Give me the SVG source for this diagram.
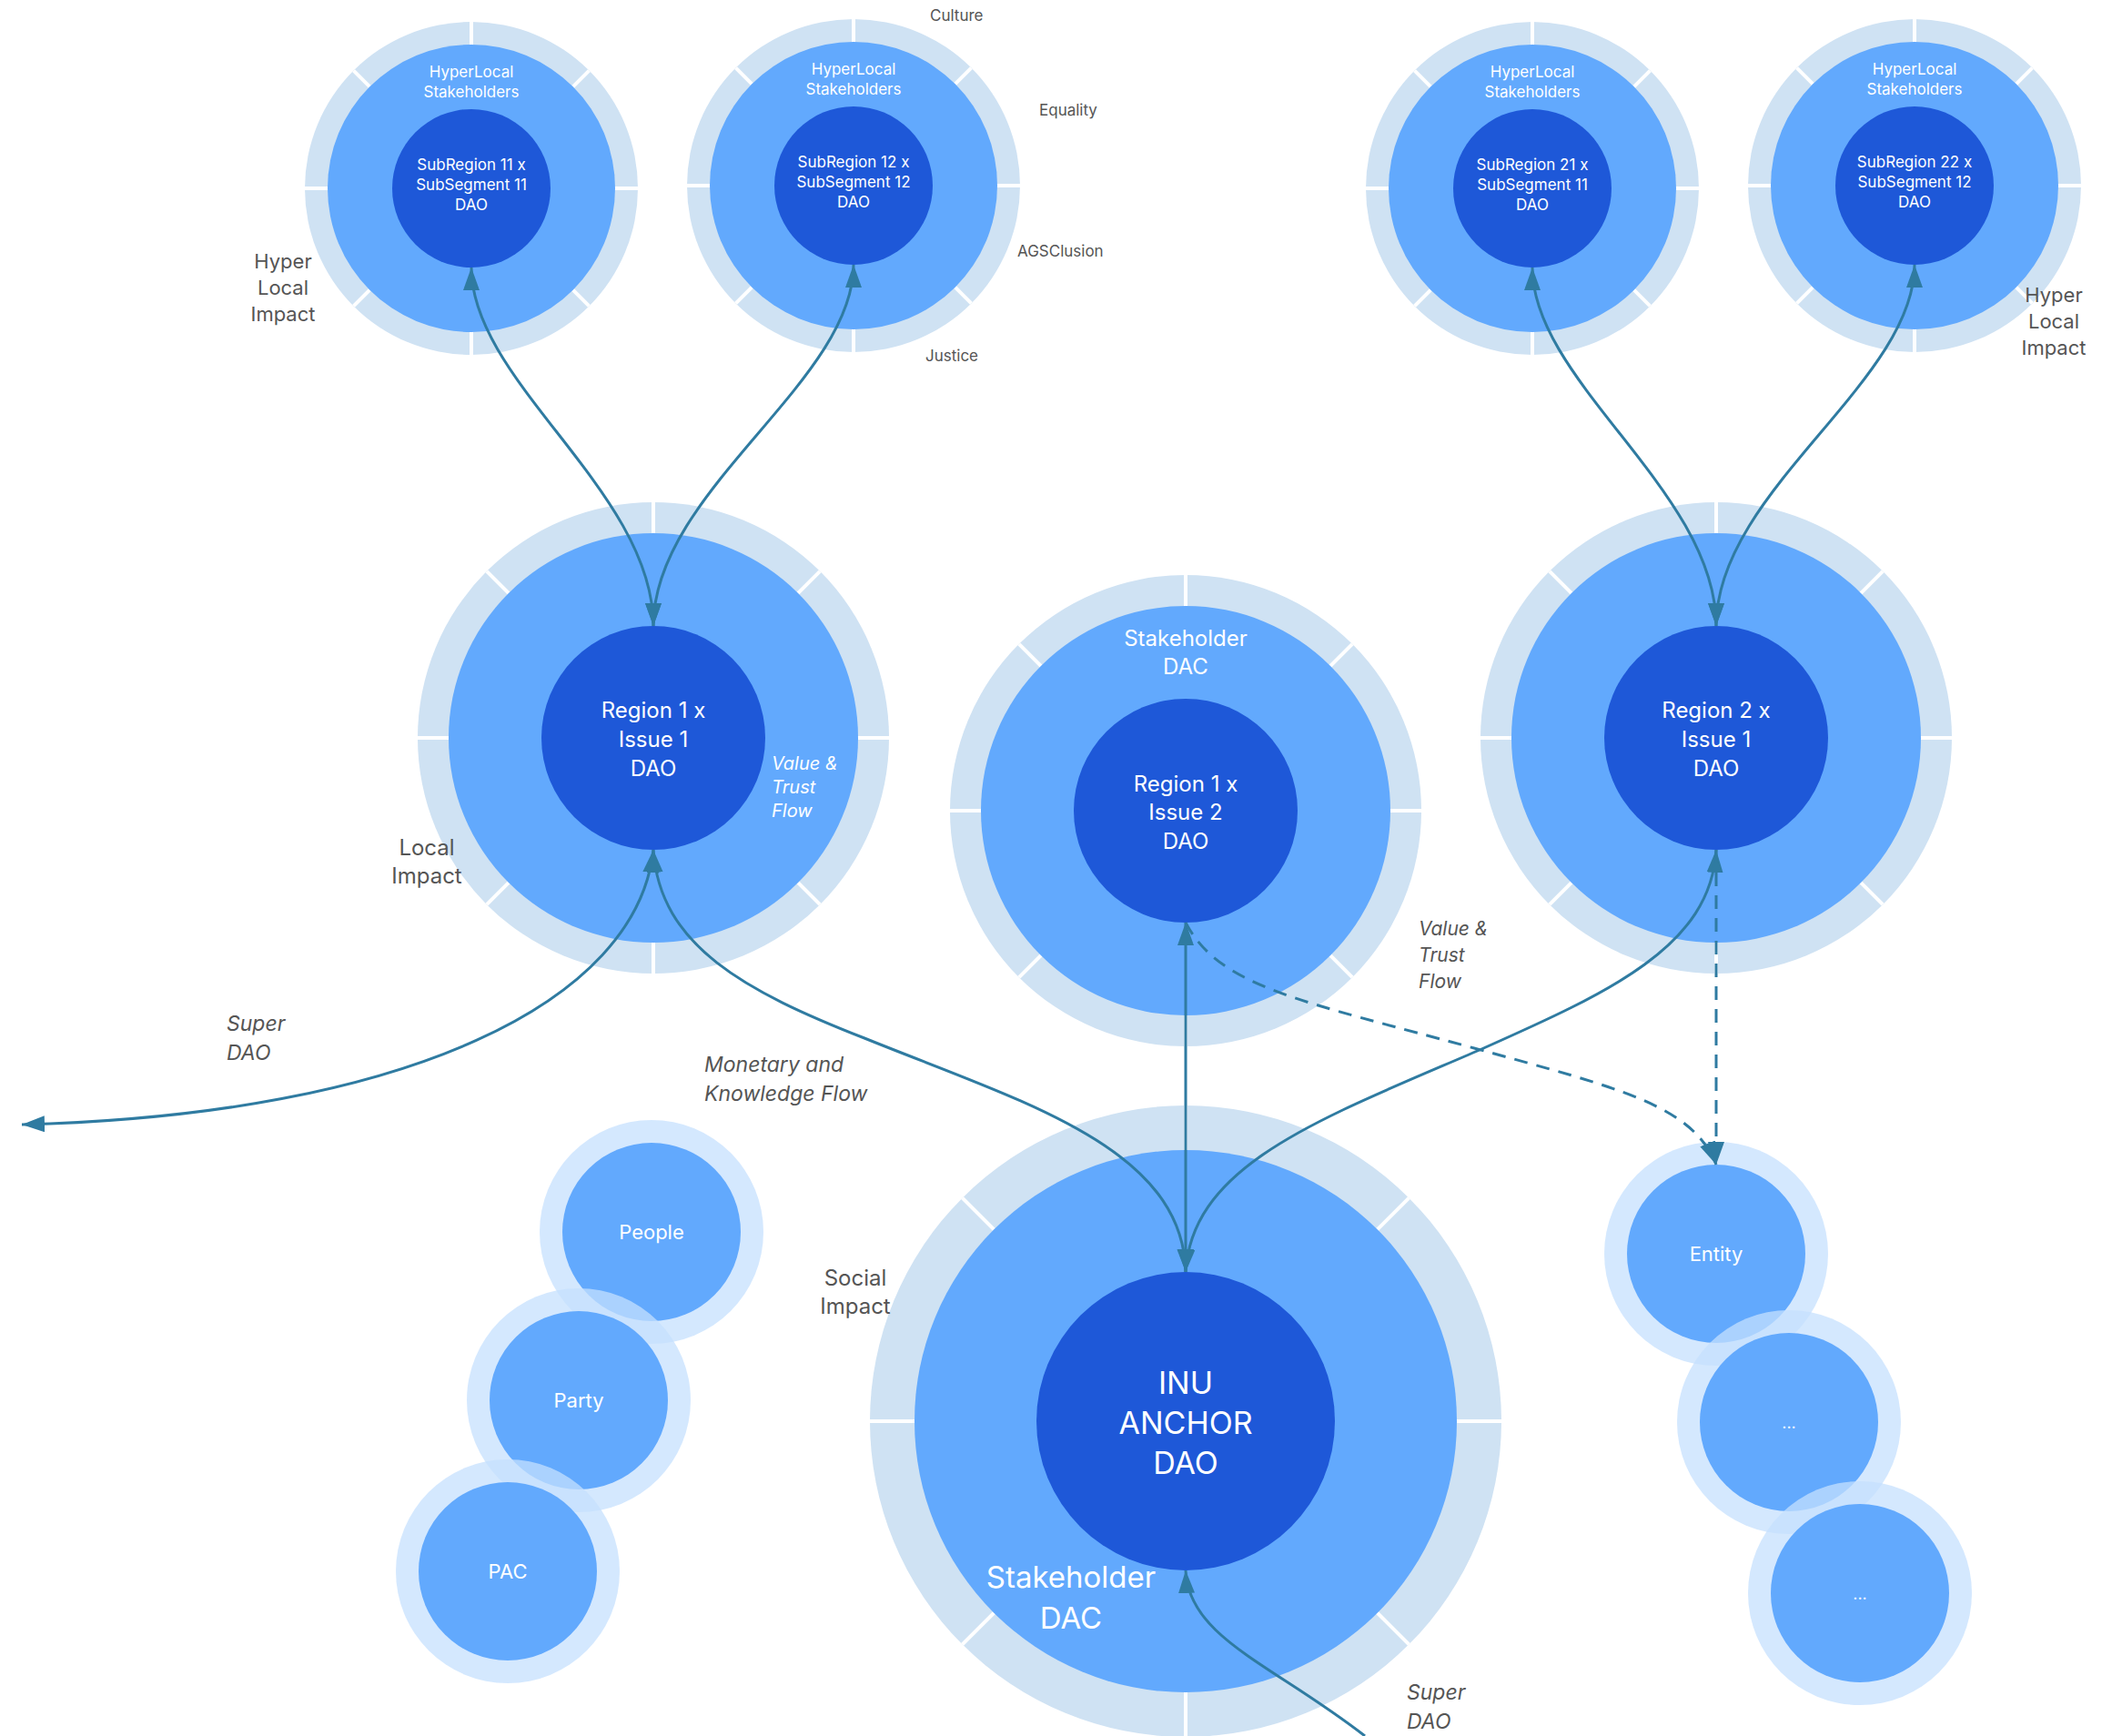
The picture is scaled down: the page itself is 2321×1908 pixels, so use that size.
<svg xmlns="http://www.w3.org/2000/svg" width="2321" height="1908" viewBox="0 0 2321 1908">
<defs>
<style>
.ring{fill:#cfe2f3}
.sep{stroke:#ffffff;stroke-width:4}
.mid{fill:#62a9fd}
.core{fill:#1e58d8}
.halo{fill:#c5e0fe;fill-opacity:0.74}
.t{font-family:Inter,"Liberation Sans",sans-serif;fill:#ffffff;text-anchor:middle}
.tl{font-family:Inter,"Liberation Sans",sans-serif;fill:#ffffff;text-anchor:start}
.lab{font-family:Inter,"Liberation Sans",sans-serif;fill:#555555}
.it{font-style:italic}
.conn{fill:none;stroke:#2f7ba1;stroke-width:3}
.dash{stroke-dasharray:15 10}
</style>
<marker id="ah" viewBox="0 0 25 18" refX="25" refY="9" markerWidth="25" markerHeight="18" markerUnits="userSpaceOnUse" orient="auto-start-reverse">
<path d="M0,0 L25,9 L0,18 z" fill="#2f7ba1"/>
</marker>
</defs>
<rect width="2321" height="1908" fill="#ffffff"/>

<g id="sub11">
<circle class="ring" cx="518" cy="207" r="183"/>
<path class="sep" d="M335,207 H701 M518,24 V390 M388.6,77.6 L647.4,336.4 M647.4,77.6 L388.6,336.4"/>
<circle class="mid" cx="518" cy="207" r="158"/>
<circle class="core" cx="518" cy="207" r="87"/>
<text class="t" font-size="17"><tspan x="518" y="85">HyperLocal</tspan><tspan x="518" y="107">Stakeholders</tspan></text>
<text class="t" font-size="17"><tspan x="518" y="187">SubRegion 11 x</tspan><tspan x="518" y="209">SubSegment 11</tspan><tspan x="518" y="231">DAO</tspan></text>
</g>

<g id="sub12">
<circle class="ring" cx="938" cy="204" r="183"/>
<path class="sep" d="M755,204 H1121 M938,21 V387 M808.6,74.6 L1067.4,333.4 M1067.4,74.6 L808.6,333.4"/>
<circle class="mid" cx="938" cy="204" r="158"/>
<circle class="core" cx="938" cy="204" r="87"/>
<text class="t" font-size="17"><tspan x="938" y="82">HyperLocal</tspan><tspan x="938" y="104">Stakeholders</tspan></text>
<text class="t" font-size="17"><tspan x="938" y="184">SubRegion 12 x</tspan><tspan x="938" y="206">SubSegment 12</tspan><tspan x="938" y="228">DAO</tspan></text>
</g>

<g id="sub21">
<circle class="ring" cx="1684" cy="207" r="183"/>
<path class="sep" d="M1501,207 H1867 M1684,24 V390 M1554.6,77.6 L1813.4,336.4 M1813.4,77.6 L1554.6,336.4"/>
<circle class="mid" cx="1684" cy="207" r="158"/>
<circle class="core" cx="1684" cy="207" r="87"/>
<text class="t" font-size="17"><tspan x="1684" y="85">HyperLocal</tspan><tspan x="1684" y="107">Stakeholders</tspan></text>
<text class="t" font-size="17"><tspan x="1684" y="187">SubRegion 21 x</tspan><tspan x="1684" y="209">SubSegment 11</tspan><tspan x="1684" y="231">DAO</tspan></text>
</g>

<g id="sub22">
<circle class="ring" cx="2104" cy="204" r="183"/>
<path class="sep" d="M1921,204 H2287 M2104,21 V387 M1974.6,74.6 L2233.4,333.4 M2233.4,74.6 L1974.6,333.4"/>
<circle class="mid" cx="2104" cy="204" r="158"/>
<circle class="core" cx="2104" cy="204" r="87"/>
<text class="t" font-size="17"><tspan x="2104" y="82">HyperLocal</tspan><tspan x="2104" y="104">Stakeholders</tspan></text>
<text class="t" font-size="17"><tspan x="2104" y="184">SubRegion 22 x</tspan><tspan x="2104" y="206">SubSegment 12</tspan><tspan x="2104" y="228">DAO</tspan></text>
</g>

<g id="region1">
<circle class="ring" cx="718" cy="811" r="259"/>
<path class="sep" d="M459,811 H977 M718,552 V1070 M534.9,627.9 L901.1,994.1 M901.1,627.9 L534.9,994.1"/>
<circle class="mid" cx="718" cy="811" r="225"/>
<circle class="core" cx="718" cy="811" r="123"/>
<text class="t" font-size="24"><tspan x="718" y="789">Region 1 x</tspan><tspan x="718" y="821">Issue 1</tspan><tspan x="718" y="853">DAO</tspan></text>
</g>

<g id="region12">
<circle class="ring" cx="1303" cy="891" r="259"/>
<path class="sep" d="M1044,891 H1562 M1303,632 V1150 M1119.9,707.9 L1486.1,1074.1 M1486.1,707.9 L1119.9,1074.1"/>
<circle class="mid" cx="1303" cy="891" r="225"/>
<circle class="core" cx="1303" cy="891" r="123"/>
<text class="t" font-size="24"><tspan x="1303" y="710">Stakeholder</tspan><tspan x="1303" y="741">DAC</tspan></text>
<text class="t" font-size="24"><tspan x="1303" y="870">Region 1 x</tspan><tspan x="1303" y="901">Issue 2</tspan><tspan x="1303" y="933">DAO</tspan></text>
</g>

<g id="region2">
<circle class="ring" cx="1886" cy="811" r="259"/>
<path class="sep" d="M1627,811 H2145 M1886,552 V1070 M1702.9,627.9 L2069.1,994.1 M2069.1,627.9 L1702.9,994.1"/>
<circle class="mid" cx="1886" cy="811" r="225"/>
<circle class="core" cx="1886" cy="811" r="123"/>
<text class="t" font-size="24"><tspan x="1886" y="789">Region 2 x</tspan><tspan x="1886" y="821">Issue 1</tspan><tspan x="1886" y="853">DAO</tspan></text>
</g>

<g id="inu">
<circle class="ring" cx="1303" cy="1562" r="347"/>
<path class="sep" d="M956,1562 H1650 M1303,1215 V1909 M1057.6,1316.6 L1548.4,1807.4 M1548.4,1316.6 L1057.6,1807.4"/>
<circle class="mid" cx="1303" cy="1562" r="298"/>
<circle class="core" cx="1303" cy="1562" r="164"/>
<text class="t" font-size="34"><tspan x="1303" y="1532">INU</tspan><tspan x="1303" y="1576">ANCHOR</tspan><tspan x="1303" y="1620">DAO</tspan></text>
<text class="t" font-size="33"><tspan x="1177" y="1745">Stakeholder</tspan><tspan x="1177" y="1790">DAC</tspan></text>
</g>

<g id="people">
<circle class="halo" cx="716" cy="1354" r="123"/>
<circle class="mid" cx="716" cy="1354" r="98"/>
<text class="t" font-size="22" x="716" y="1362">People</text>
</g>
<g id="party">
<circle class="halo" cx="636" cy="1539" r="123"/>
<circle class="mid" cx="636" cy="1539" r="98"/>
<text class="t" font-size="22" x="636" y="1547">Party</text>
</g>
<g id="pac">
<circle class="halo" cx="558" cy="1727" r="123"/>
<circle class="mid" cx="558" cy="1727" r="98"/>
<text class="t" font-size="22" x="558" y="1735">PAC</text>
</g>

<g id="entity">
<circle class="halo" cx="1886" cy="1378" r="123"/>
<circle class="mid" cx="1886" cy="1378" r="98"/>
<text class="t" font-size="22" x="1886" y="1386">Entity</text>
</g>
<g id="more1">
<circle class="halo" cx="1966" cy="1563" r="123"/>
<circle class="mid" cx="1966" cy="1563" r="98"/>
<text class="t" font-size="18" x="1966" y="1570">...</text>
</g>
<g id="more2">
<circle class="halo" cx="2044" cy="1751" r="123"/>
<circle class="mid" cx="2044" cy="1751" r="98"/>
<text class="t" font-size="18" x="2044" y="1758">...</text>
</g>

<g id="connectors">
<path class="conn" marker-start="url(#ah)" marker-end="url(#ah)" d="M518,294 C518,420 718,540 718,688"/>
<path class="conn" marker-start="url(#ah)" marker-end="url(#ah)" d="M938,291 C938,420 718,540 718,688"/>
<path class="conn" marker-start="url(#ah)" marker-end="url(#ah)" d="M1684,294 C1684,420 1886,540 1886,688"/>
<path class="conn" marker-start="url(#ah)" marker-end="url(#ah)" d="M2104,291 C2104,420 1886,540 1886,688"/>
<path class="conn" marker-start="url(#ah)" marker-end="url(#ah)" d="M718,934 C700,1100 450,1225 24,1236"/>
<path class="conn" marker-start="url(#ah)" marker-end="url(#ah)" d="M718,934 C725,1040 820,1090 950,1141 C1120,1210 1300,1260 1303,1398"/>
<path class="conn" marker-start="url(#ah)" marker-end="url(#ah)" d="M1303,1014 L1303,1398"/>
<path class="conn" marker-start="url(#ah)" marker-end="url(#ah)" d="M1886,934 C1880,1040 1770,1090 1626,1154 C1450,1230 1310,1280 1303,1398"/>
<path class="conn dash" marker-end="url(#ah)" d="M1303,1014 C1340,1085 1430,1100 1620,1152 C1780,1196 1860,1215 1886,1280"/>
<path class="conn dash" marker-end="url(#ah)" d="M1886,934 L1886,1280"/>
<path class="conn" marker-end="url(#ah)" d="M1500,1908 C1400,1830 1306,1800 1303,1726"/>
</g>

<g id="labels">
<text class="lab" font-size="17" fill="#333333" x="1022" y="23">Culture</text>
<text class="lab" font-size="17" x="1142" y="127">Equality</text>
<text class="lab" font-size="17" x="1118" y="282">AGSClusion</text>
<text class="lab" font-size="17" x="1017" y="397">Justice</text>
<text class="lab" font-size="22" text-anchor="middle"><tspan x="311" y="295">Hyper</tspan><tspan x="311" y="324">Local</tspan><tspan x="311" y="353">Impact</tspan></text>
<text class="lab" font-size="22" text-anchor="middle"><tspan x="2257" y="332">Hyper</tspan><tspan x="2257" y="361">Local</tspan><tspan x="2257" y="390">Impact</tspan></text>
<text class="lab" font-size="24" text-anchor="middle"><tspan x="469" y="940">Local</tspan><tspan x="469" y="971">Impact</tspan></text>
<text class="lab" font-size="24" text-anchor="middle"><tspan x="940" y="1413">Social</tspan><tspan x="940" y="1444">Impact</tspan></text>
<text class="tl it" font-size="20"><tspan x="848" y="846">Value &amp;</tspan><tspan x="848" y="872">Trust</tspan><tspan x="848" y="898">Flow</tspan></text>
<text class="lab it" font-size="21"><tspan x="1559" y="1028">Value &amp;</tspan><tspan x="1559" y="1057">Trust</tspan><tspan x="1559" y="1086">Flow</tspan></text>
<text class="lab it" font-size="23"><tspan x="249" y="1133">Super</tspan><tspan x="249" y="1165">DAO</tspan></text>
<text class="lab it" font-size="23"><tspan x="774" y="1178">Monetary and</tspan><tspan x="774" y="1210">Knowledge Flow</tspan></text>
<text class="lab it" font-size="23"><tspan x="1546" y="1868">Super</tspan><tspan x="1546" y="1900">DAO</tspan></text>
</g>
</svg>
